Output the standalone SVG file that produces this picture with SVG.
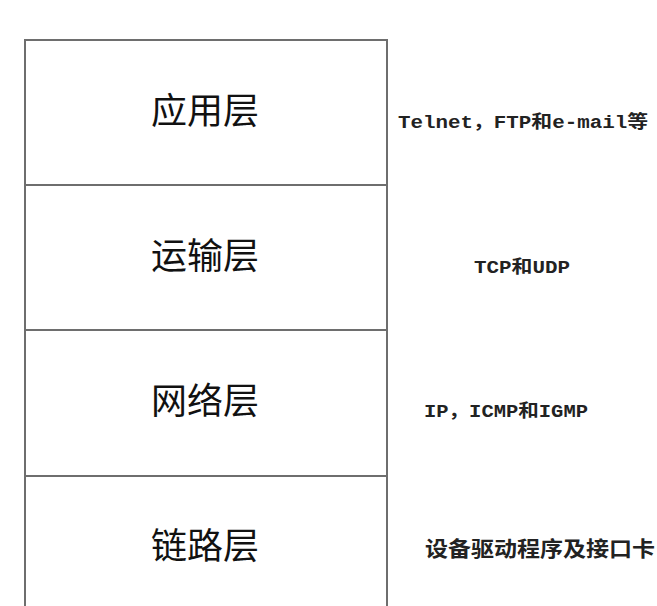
<svg xmlns="http://www.w3.org/2000/svg" width="657" height="606" viewBox="0 0 657 606">
<style>
.ln{stroke:#6e6e6e;stroke-width:2;fill:none}
.lay{font-family:"Noto Sans CJK SC","Noto Sans CJK JP",sans-serif;font-size:36px;fill:#111;text-anchor:middle}
.prot{font-family:"Liberation Mono","Noto Sans CJK SC",monospace;font-size:18px;font-weight:bold;fill:#222}
.protc{font-family:"Noto Sans CJK SC",sans-serif;font-size:21px;font-weight:bold;fill:#222}
</style>
<rect width="657" height="606" fill="#ffffff"/>
<g id="connectors">
<path class="ln" d="M25,608 V40 H387 V608"/>
<line class="ln" x1="25" y1="185" x2="387" y2="185"/>
<line class="ln" x1="25" y1="330" x2="387" y2="330"/>
<line class="ln" x1="25" y1="476" x2="387" y2="476"/>
</g>
<g id="application">
<text class="lay" x="205" y="124">应用层</text>
<text class="prot" x="398" y="128" textLength="250" lengthAdjust="spacingAndGlyphs">Telnet，FTP和e-mail等</text>
</g>
<g id="transport">
<text class="lay" x="205" y="269">运输层</text>
<text class="prot" x="474" y="273" textLength="96" lengthAdjust="spacingAndGlyphs">TCP和UDP</text>
</g>
<g id="network">
<text class="lay" x="205" y="414">网络层</text>
<text class="prot" x="424" y="417" textLength="164" lengthAdjust="spacingAndGlyphs">IP，ICMP和IGMP</text>
</g>
<g id="link">
<text class="lay" x="205" y="559">链路层</text>
<text class="protc" x="425" y="556" textLength="230" lengthAdjust="spacingAndGlyphs">设备驱动程序及接口卡</text>
</g>
</svg>
